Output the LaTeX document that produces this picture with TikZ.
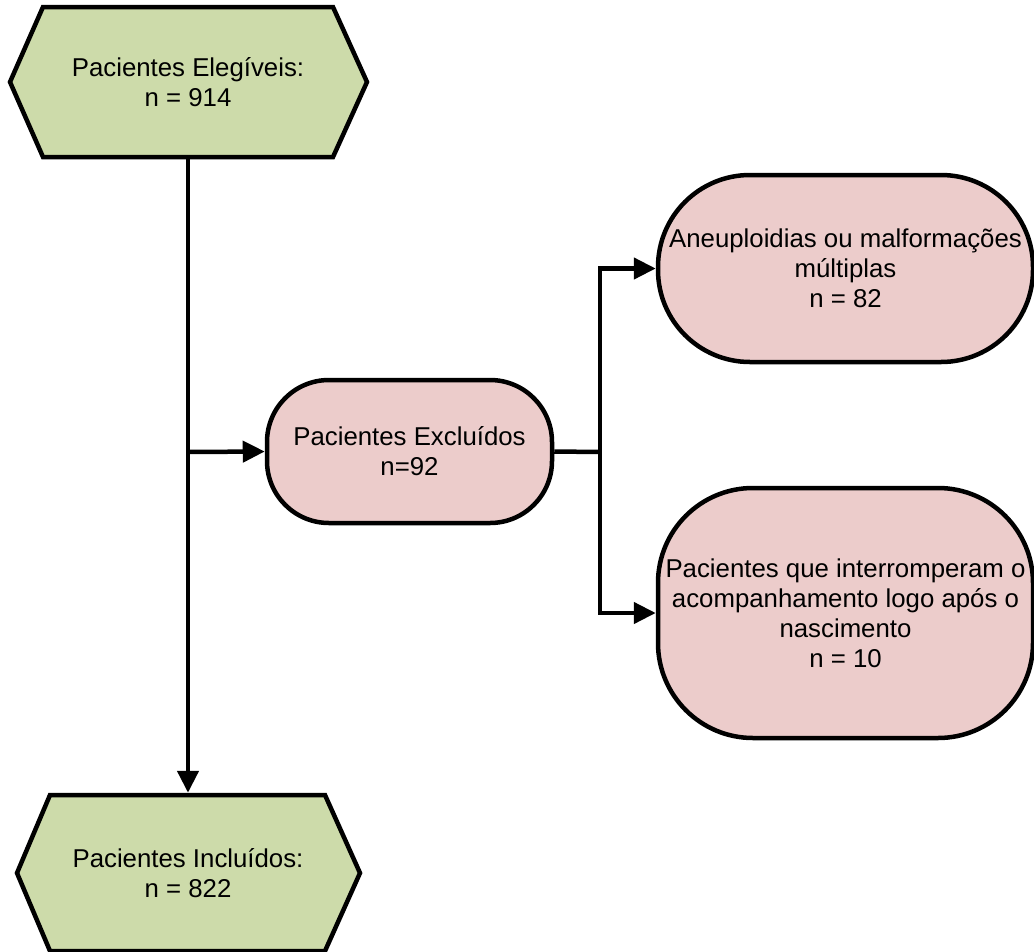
\documentclass[tikz,border=0pt]{standalone}
\usepackage{fontspec}
\setmainfont{Liberation Sans}
\usetikzlibrary{arrows.meta}
\definecolor{hexgreen}{RGB}{205,219,170}
\definecolor{boxpink}{RGB}{236,204,203}
\begin{document}
\begin{tikzpicture}[x=1pt,y=-1pt,line width=4.5pt,
  hexa/.style={draw=black,fill=hexgreen,line join=miter},
  hextext/.style={inner sep=0pt,align=center,font=\fontsize{25.8}{30.5}\selectfont},
  pinkbox/.style={draw=black,fill=boxpink,inner sep=0pt,align=center,font=\fontsize{25.8}{30}\selectfont},
  conn/.style={draw=black,line width=4.5pt,-{Triangle[length=22pt,width=21pt]}},
  plain/.style={draw=black,line width=4.5pt}]
\useasboundingbox (0,0) rectangle (1034,951);
% top hexagon
\draw[hexa] (10,82) -- (43,7) -- (333,7) -- (367,82) -- (333,157) -- (43,157) -- cycle;
\node[hextext,minimum width=357pt,minimum height=150pt] (elig) at (188,82) {Pacientes Elegíveis:\\n = 914};
% bottom hexagon
\draw[hexa] (17,873) -- (50,795) -- (325,795) -- (360,873) -- (325,951) -- (50,951) -- cycle;
\node[hextext,minimum width=343pt,minimum height=156pt] (incl) at (188,873) {Pacientes Incluídos:\\n = 822};
% pink boxes
\node[pinkbox,rounded corners=62pt,minimum width=285pt,minimum height=143pt] (excl) at (409.5,451.5) {Pacientes Excluídos\\n=92};
\node[pinkbox,rounded corners=92pt,minimum width=375pt,minimum height=187pt] (aneu) at (845.5,268.5) {Aneuploidias ou malformações\\múltiplas\\n = 82};
\node[pinkbox,rounded corners=95pt,minimum width=375pt,minimum height=250pt] (paci) at (845.5,613) {Pacientes que interromperam o\\acompanhamento logo após o\\nascimento\\n = 10};
% connectors
\coordinate (j1) at (188,452);
\coordinate (j2) at (600,452);
\draw[conn] (elig.south) -- (incl.north);
\draw[conn] (j1) -- (excl.west);
\draw[plain] (excl.east) -- (j2);
\draw[conn] (j2) |- (aneu.west);
\draw[conn] (j2) |- (paci.west);
\end{tikzpicture}
\end{document}
